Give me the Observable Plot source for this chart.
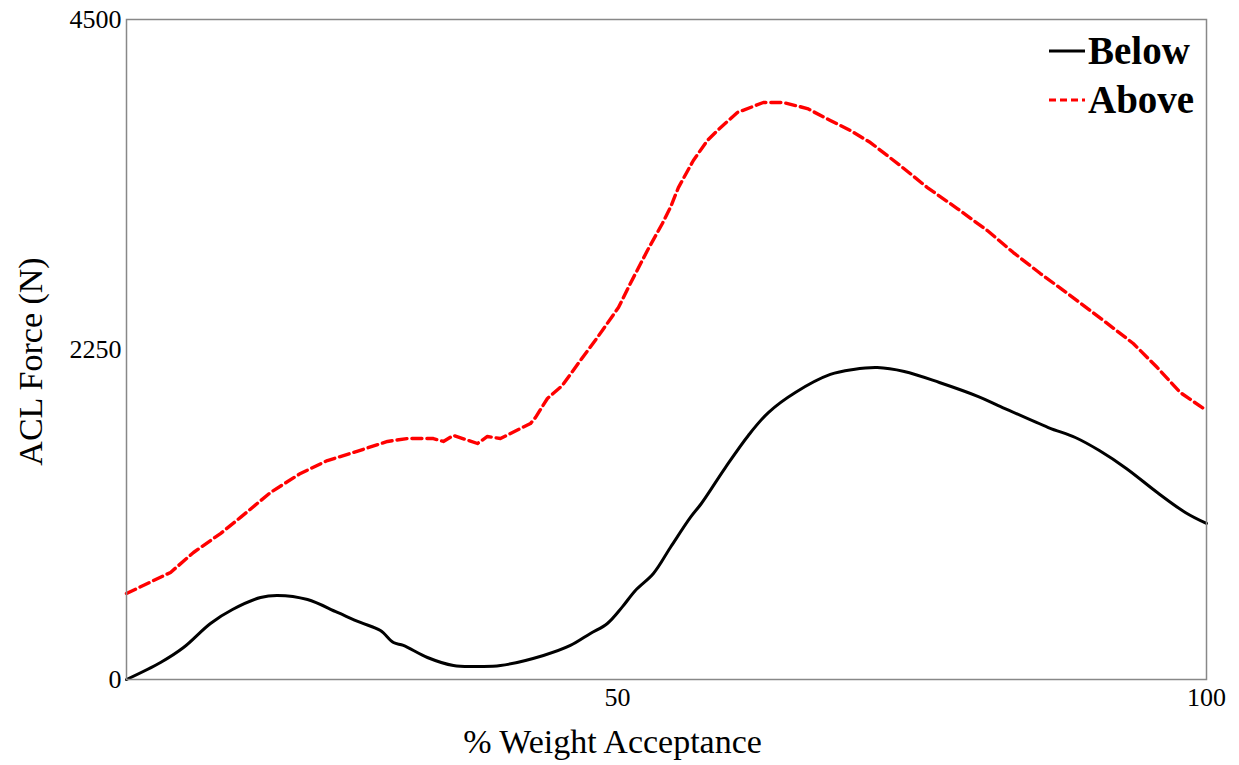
<!DOCTYPE html>
<html>
<head>
<meta charset="utf-8">
<script src="https://cdn.jsdelivr.net/npm/d3@7"></script>
<script src="https://cdn.jsdelivr.net/npm/@observablehq/plot@0.6"></script>
<style>
  html, body { margin: 0; padding: 0; background: #fff; }
  #wrap { position: relative; width: 1239px; height: 765px; }
  #legend { position: absolute; left: 1048px; top: 26px; font-family: "Liberation Serif", "Times New Roman", serif; font-weight: bold; font-size: 39px; line-height: 49px; color: #000; }
  #legend div { display: flex; align-items: center; white-space: nowrap; }
  #legend svg { margin-right: 2px; }
</style>
</head>
<body>
<div id="wrap"></div>
<script>
const seriesNames = ["Below", "Above"];
const seriesColors = ["#000000", "#ff0000"];

const belowX = [8.3, 11.19, 13.14, 15.43, 17.30, 19.68, 21.12, 23.67, 26.21, 28.16, 29.86, 30.97, 31.81, 33.85, 36.06, 38.18, 40.05, 43.70, 45.99, 47.69, 49.13, 50.40, 51.51, 53.04, 54.48, 56.18, 57.11, 59.15, 61.10, 62.80, 65.09, 68.06, 70.02, 72.05, 74.34, 77.32, 80.63, 82.32, 86.57, 88.86, 90.90, 93.19, 95.82, 98.20, 100];
const belowY = [0, 116, 218, 382, 477, 559, 573, 545, 457, 389, 334, 252, 232, 150, 95, 89, 95, 164, 232, 314, 382, 495, 607, 723, 900, 1105, 1200, 1445, 1664, 1820, 1957, 2080, 2114, 2127, 2100, 2025, 1929, 1868, 1718, 1650, 1561, 1439, 1275, 1139, 1064];

const aboveX = [8.3, 12.04, 13.99, 16.28, 17.98, 20.52, 23.07, 25.36, 27.57, 30.46, 32.15, 34.36, 35.21, 36.06, 38.10, 38.94, 40.05, 42.60, 43.02, 44.04, 45.31, 46.84, 48.28, 50.07, 51.08, 52.53, 53.80, 54.48, 55.16, 56.43, 57.62, 58.47, 60.17, 62.37, 64.07, 66.11, 68.06, 69.76, 71.46, 74.00, 76.30, 78.84, 81.39, 83.60, 85.89, 88.44, 91.24, 93.78, 95.82, 97.77, 100];
const aboveY = [586, 730, 866, 995, 1105, 1275, 1405, 1493, 1548, 1623, 1643, 1643, 1623, 1664, 1609, 1657, 1643, 1745, 1786, 1916, 2005, 2175, 2332, 2536, 2700, 2925, 3109, 3218, 3354, 3539, 3675, 3743, 3866, 3934, 3934, 3893, 3811, 3743, 3661, 3504, 3354, 3211, 3061, 2911, 2768, 2618, 2448, 2291, 2127, 1957, 1834];

const xTicks = [50, 100];
const yTicks = [0, 2250, 4500];
const xTitle = "% Weight Acceptance";
const yTitle = "ACL Force (N)";

const below = belowX.map((x, i) => ({x, y: belowY[i]}));
const above = aboveX.map((x, i) => ({x, y: aboveY[i]}));

const font = '"Liberation Serif", "Times New Roman", serif';

const chart = Plot.plot({
  width: 1239,
  height: 765,
  marginLeft: 126,
  marginRight: 33,
  marginTop: 19,
  marginBottom: 86,
  style: { fontFamily: font, fontSize: "26px", background: "#fff", color: "#000" },
  x: { domain: [8.3, 100], ticks: xTicks },
  y: { domain: [0, 4500], ticks: yTicks },
  marks: [
    Plot.axisX({ticks: xTicks, tickSize: 0, tickPadding: 8, label: null, fontSize: 26, tickFormat: d => String(d)}),
    Plot.axisY({ticks: yTicks, tickSize: 0, tickPadding: 5, label: null, fontSize: 26, tickFormat: d => String(d)}),
    Plot.line(above, {x: "x", y: "y", stroke: seriesColors[1], strokeWidth: 3.4, strokeDasharray: "10,5", curve: "linear"}),
    Plot.line(below, {x: "x", y: "y", stroke: seriesColors[0], strokeWidth: 3, curve: "catmull-rom"}),
    Plot.frame({stroke: "#888", strokeWidth: 1.5}),
    Plot.text([xTitle], {frameAnchor: "bottom", dx: -54, dy: 63, fontSize: 34, fill: "#000", textAnchor: "middle", lineAnchor: "middle"}),
    Plot.text([yTitle], {frameAnchor: "left", dx: -95, dy: 12, rotate: -90, fontSize: 34, fill: "#000", textAnchor: "middle", lineAnchor: "middle"})
  ]
});

const wrap = document.getElementById("wrap");
wrap.appendChild(chart);

const legend = document.createElement("div");
legend.id = "legend";
seriesNames.forEach((name, i) => {
  const row = document.createElement("div");
  const dash = i === 1 ? 'stroke-dasharray="7,4"' : '';
  row.innerHTML = `<svg width="38" height="10"><line x1="1" y1="5" x2="37" y2="5" stroke="${seriesColors[i]}" stroke-width="3" ${dash}/></svg><span>${name}</span>`;
  legend.appendChild(row);
});
wrap.appendChild(legend);
</script>
</body>
</html>
